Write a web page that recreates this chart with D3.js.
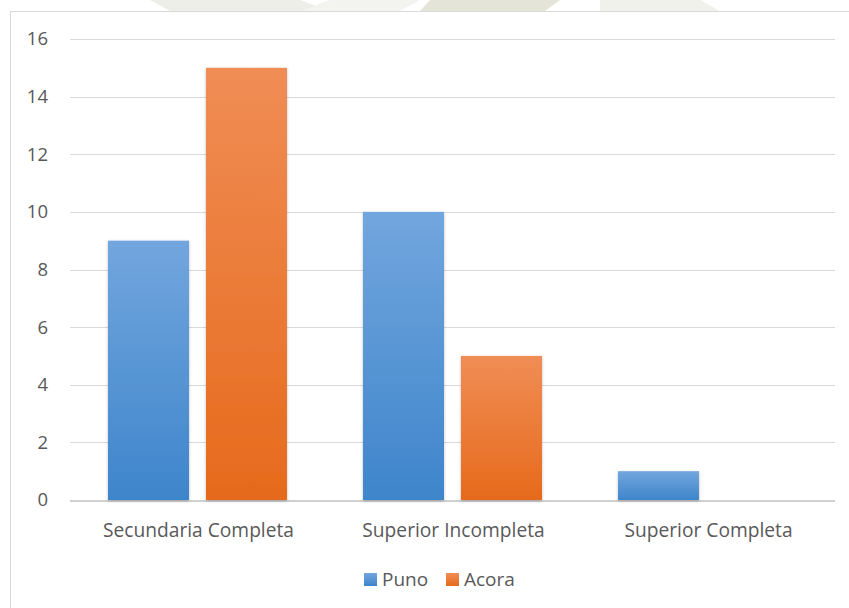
<!DOCTYPE html>
<html><head><meta charset="utf-8">
<script src="https://cdn.jsdelivr.net/npm/d3@7"></script>
<style>
html,body{margin:0;padding:0;background:#fff;}
svg{display:block;font-family:"Open Sans",sans-serif;}
</style></head>
<body>
<svg id="c" width="849" height="608"></svg>
<script>
const categories = ["Secundaria Completa", "Superior Incompleta", "Superior Completa"];
const seriesNames = ["Puno", "Acora"];
const puno = [9, 10, 1];
const acora = [15, 5, 0];
const yTicks = [0, 2, 4, 6, 8, 10, 12, 14, 16];

const values = [puno, acora];
const colors = [
  {top:"#72a6de", bottom:"#3e85cb"},
  {top:"#f08d55", bottom:"#e66a1c"}
];

const svg = d3.select("#c");
const defs = svg.append("defs");
colors.forEach((c,i)=>{
  const g = defs.append("linearGradient").attr("id","g"+i).attr("x1",0).attr("y1",0).attr("x2",0).attr("y2",1);
  g.append("stop").attr("offset","0%").attr("stop-color",c.top);
  g.append("stop").attr("offset","100%").attr("stop-color",c.bottom);
});
const f = defs.append("filter").attr("id","sh").attr("x","-20%").attr("y","-20%").attr("width","140%").attr("height","140%");
f.append("feDropShadow").attr("dx",0).attr("dy",1).attr("stdDeviation",1.5).attr("flood-color","#000").attr("flood-opacity",0.25);

// faint watermark strip at top
const wm = svg.append("g");
wm.append("path").attr("d","M150,0 L300,0 L330,11 L170,11 Z").attr("fill","#eeeee8");
wm.append("path").attr("d","M330,0 L420,0 L400,11 L300,11 Z").attr("fill","#f3f3ef");
wm.append("path").attr("d","M430,0 L560,0 L545,11 L420,11 Z").attr("fill","#e4e4d8");
wm.append("path").attr("d","M600,0 L700,0 L720,11 L600,11 Z").attr("fill","#f1f1ec");

// chart frame
svg.append("rect").attr("x",10.5).attr("y",11.5).attr("width",850).attr("height",620)
  .attr("fill","#fff").attr("stroke","#d9d9d9").attr("stroke-width",1);

const y = d3.scaleLinear().domain([0,16]).range([500,39]);
const x0 = d3.scaleBand().domain(categories).range([70,835]).paddingInner(0).paddingOuter(0);
const x1 = d3.scaleBand().domain(seriesNames).range([0,x0.bandwidth()]).paddingInner(0.1735).paddingOuter(0.388);

// gridlines
const yAxis = d3.axisLeft(y).tickValues(yTicks).tickSize(-(835-70)).tickPadding(22).tickFormat(d3.format("d"));
const ga = svg.append("g").attr("transform","translate(70,0)").call(yAxis);
ga.select(".domain").remove();
ga.selectAll(".tick line").attr("stroke","#d9d9d9").attr("stroke-width",1).attr("shape-rendering","crispEdges");
ga.selectAll(".tick text").attr("fill","#595959").attr("font-size","18.5px").attr("font-family","Open Sans, sans-serif");
ga.selectAll(".tick").filter(d=>d===0).select("line").attr("stroke","#d0d0d0").attr("stroke-width",2);

// bars
seriesNames.forEach((s,si)=>{
  svg.append("g").selectAll("rect").data(categories).join("rect")
    .attr("x",c=>x0(c)+x1(s))
    .attr("width",x1.bandwidth())
    .attr("y",(c,ci)=>y(values[si][ci]))
    .attr("height",(c,ci)=>y(0)-y(values[si][ci]))
    .attr("fill","url(#g"+si+")")
    .attr("filter","url(#sh)");
});

// x labels
svg.append("g").selectAll("text").data(categories).join("text")
  .attr("x",c=>x0(c)+x0.bandwidth()/2+1)
  .attr("y",537)
  .attr("text-anchor","middle")
  .attr("fill","#595959")
  .attr("font-size","19.2px")
  .text(c=>c);

// legend
const legend = [{name:"Puno",x:364},{name:"Acora",x:446}];
const lg = svg.append("g");
legend.forEach((l,i)=>{
  lg.append("rect").attr("x",l.x).attr("y",573).attr("width",13).attr("height",13).attr("fill","url(#g"+i+")");
  lg.append("text").attr("x",l.x+18).attr("y",586).attr("fill","#595959").attr("font-size","19px").text(l.name);
});
</script>
</body></html>
